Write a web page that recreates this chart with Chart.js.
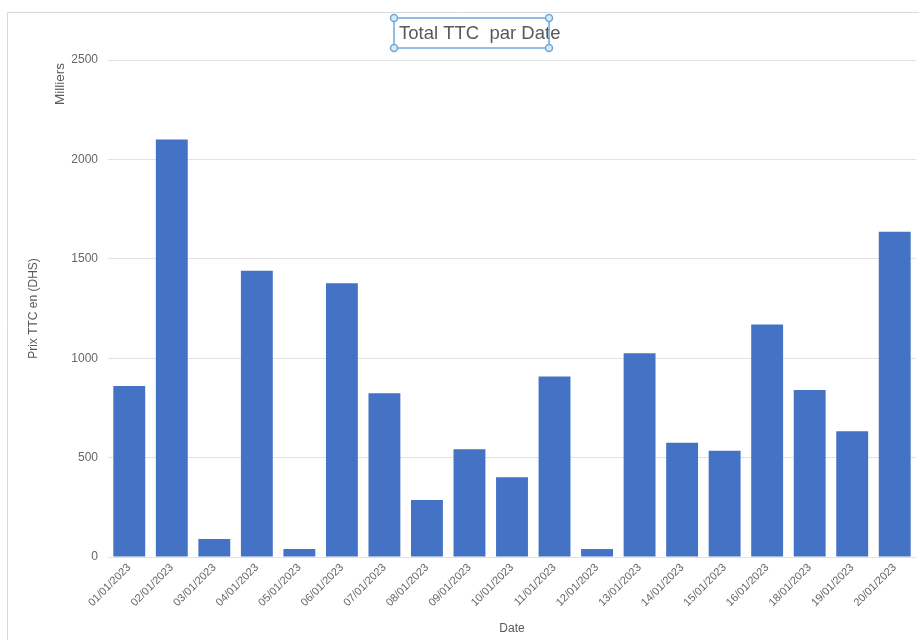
<!DOCTYPE html>
<html>
<head>
<meta charset="utf-8">
<script src="https://cdn.jsdelivr.net/npm/chart.js@4"></script>
<style>
  html, body { margin: 0; padding: 0; background: #fff; }
  #wrap { position: absolute; left: 0; top: 0; width: 919px; height: 643px; }
</style>
</head>
<body>
<div id="wrap"><canvas id="c"></canvas></div>
<script>
const dates = ["01/01/2023","02/01/2023","03/01/2023","04/01/2023","05/01/2023","06/01/2023","07/01/2023","08/01/2023","09/01/2023","10/01/2023","11/01/2023","12/01/2023","13/01/2023","14/01/2023","15/01/2023","16/01/2023","18/01/2023","19/01/2023","20/01/2023"];
const totalTTC = [860, 2100, 90, 1440, 40, 1377, 824, 287, 542, 401, 908, 40, 1025, 575, 535, 1170, 840, 632, 1636];
const yTicks = [0, 500, 1000, 1500, 2000, 2500];
const chartTitle = "Total TTC  par Date";
const yUnitLabel = "Milliers";
const yAxisTitle = "Prix TTC en (DHS)";
const xAxisTitle = "Date";

const textGray = '#595959';
const FONT = '"Liberation Sans", Arial, sans-serif';

const decor = {
  id: 'decor',
  beforeDraw(chart) {
    const ctx = chart.ctx;
    ctx.save();
    ctx.strokeStyle = '#d9d9d9';
    ctx.lineWidth = 1;
    ctx.beginPath();
    ctx.moveTo(7.5, 640);
    ctx.lineTo(7.5, 12.5);
    ctx.lineTo(919, 12.5);
    ctx.stroke();
    ctx.restore();
  },
  afterDraw(chart) {
    const ctx = chart.ctx;
    ctx.save();
    ctx.fillStyle = textGray;
    ctx.font = '18.5px ' + FONT;
    ctx.textAlign = 'left';
    ctx.textBaseline = 'middle';
    ctx.fillText(chartTitle, 399, 34);
    const x1 = 394, y1 = 18, x2 = 549, y2 = 48;
    ctx.strokeStyle = '#6fa8dc';
    ctx.lineWidth = 1.5;
    ctx.strokeRect(x1, y1, x2 - x1, y2 - y1);
    [[x1,y1],[x2,y1],[x1,y2],[x2,y2]].forEach(([x,y]) => {
      ctx.beginPath();
      ctx.arc(x, y, 3.5, 0, Math.PI * 2);
      ctx.fillStyle = '#dbe9f7';
      ctx.fill();
      ctx.stroke();
    });
    ctx.translate(60, 84);
    ctx.rotate(-Math.PI / 2);
    ctx.fillStyle = textGray;
    ctx.font = '13.5px ' + FONT;
    ctx.textAlign = 'center';
    ctx.textBaseline = 'middle';
    ctx.fillText(yUnitLabel, 0, 0);
    ctx.restore();
  }
};

new Chart(document.getElementById('c'), {
  type: 'bar',
  data: {
    labels: dates,
    datasets: [{
      data: totalTTC,
      backgroundColor: '#4472c4',
      borderWidth: 0,
      barPercentage: 0.75,
      categoryPercentage: 1.0
    }]
  },
  options: {
    responsive: true,
    maintainAspectRatio: false,
    animation: false,
    layout: { padding: { top: 60, right: 3, bottom: 4, left: 0 } },
    plugins: {
      legend: { display: false },
      title: { display: false },
      tooltip: { enabled: false }
    },
    scales: {
      x: {
        grid: { display: false, drawTicks: false },
        border: { display: false },
        ticks: {
          color: '#666',
          font: { size: 11, family: FONT },
          maxRotation: 45, minRotation: 45,
          autoSkip: false,
          padding: 4
        },
        title: {
          display: true, text: xAxisTitle, color: textGray,
          font: { size: 12, family: FONT },
          padding: { top: 0, bottom: 3 }
        },
        afterFit(scale) {
          scale.height = 643 - 4 - 557;
          scale.paddingLeft = 0;
          scale.paddingRight = 0;
        }
      },
      y: {
        min: 0, max: 2500,
        afterBuildTicks(scale) { scale.ticks = yTicks.map(v => ({ value: v })); },
        grid: { color: '#e3e3e3', drawTicks: false, lineWidth: 1 },
        border: { display: false },
        ticks: {
          color: '#666',
          font: { size: 12, family: FONT },
          padding: 10,
          callback: (v) => String(v)
        },
        title: {
          display: true, text: yAxisTitle, color: textGray,
          font: { size: 12, family: FONT },
          padding: { top: 26, bottom: 0 }
        },
        afterFit(scale) {
          scale.width = 108;
          scale.paddingTop = 0;
          scale.paddingBottom = 0;
        }
      }
    }
  },
  plugins: [decor]
});
</script>
</body>
</html>
